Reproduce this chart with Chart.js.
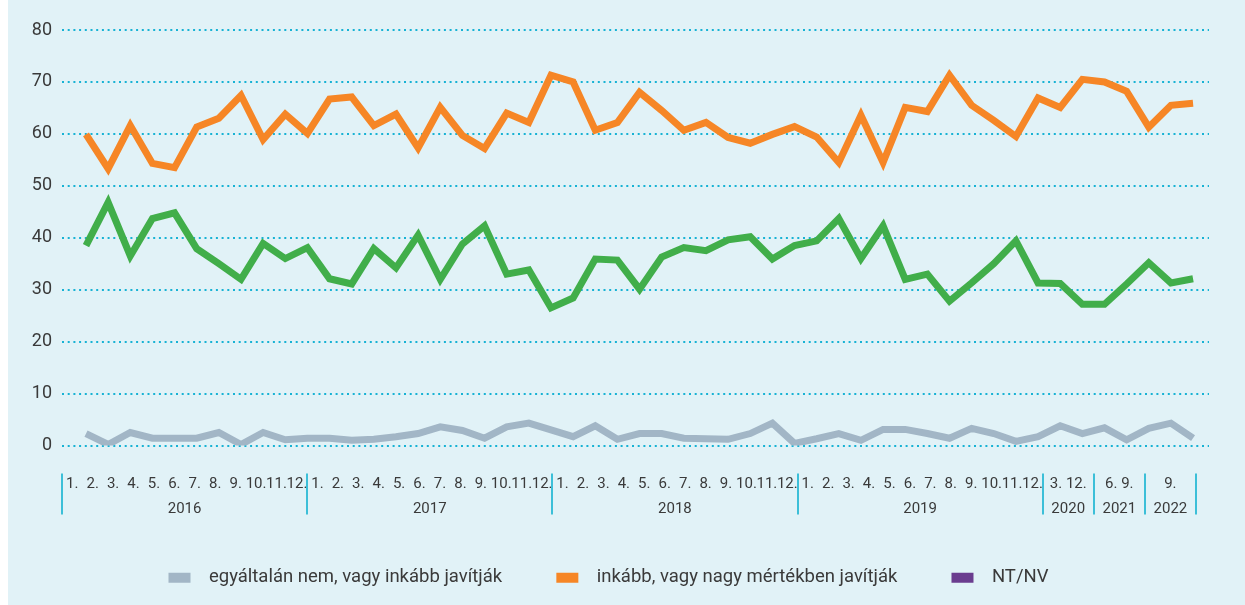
<!DOCTYPE html>
<html>
<head>
<meta charset="utf-8">
<script src="https://cdn.jsdelivr.net/npm/chart.js@4.4.1/dist/chart.umd.min.js"></script>
<style>
  html, body { margin: 0; padding: 0; background: #ffffff; }
  #wrap { position: absolute; left: 8px; top: 0; width: 1237px; height: 605px; background: #e1f2f7; }
</style>
</head>
<body>
<div id="wrap"><canvas id="chart"></canvas></div>
<script>
// month ticks for the full years, then the sparse later years
const monthLabels = ["1.","2.","3.","4.","5.","6.","7.","8.","9.","10.","11.","12."];
const fullYears = ["2016","2017","2018","2019"];
const lateLabels = ["3. 12.","6. 9.","9."];
const lateYears = ["2020","2021","2022"];

const yTicks = [0,10,20,30,40,50,60,70,80];

const legendNames = ["egyáltalán nem, vagy inkább javítják", "inkább, vagy nagy mértékben javítják", "NT/NV"];

// survey waves
const grayVals = [2.3,0.2,2.5,1.4,1.4,1.4,2.5,0.2,2.5,1.1,1.4,1.4,1.0,1.2,1.7,2.3,
  3.6,2.9,1.4,3.6,4.3,3.0,1.7,3.8,1.2,2.3,2.3,1.4,1.3,1.2,2.3,4.3,0.4,
  1.3,2.3,1.0,3.1,3.1,2.3,1.4,3.3,2.3,0.8,1.7,3.8,2.3,3.4,1.1,3.3,4.3,1.4];
const orangeVals = [59.9,53.3,61.6,54.3,53.5,61.3,63.0,67.4,58.9,63.8,60.1,66.7,67.1,61.6,63.8,57.3,
  65.1,59.7,57.2,64.0,62.2,71.3,70.0,60.7,62.2,68.0,64.5,60.7,62.2,59.3,58.2,59.9,61.4,
  59.4,54.5,63.6,54.5,65.1,64.3,71.3,65.5,62.6,59.5,66.9,65.1,70.5,70.0,68.2,61.3,65.5,65.9];
const greenVals = [38.5,46.8,36.5,43.7,44.8,37.9,35.0,32.0,38.9,36.0,38.1,32.1,31.1,37.9,34.2,40.5,
  32.0,38.8,42.3,33.0,33.8,26.5,28.4,35.9,35.7,30.1,36.3,38.1,37.5,39.6,40.2,35.9,38.5,
  39.4,43.7,36.0,42.3,32.0,33.0,27.8,31.3,35.0,39.4,31.3,31.2,27.2,27.2,31.1,35.2,31.3,32.1];
const ntnvVals = [];

const colors = { gray: "#a2b6c6", orange: "#f68626", green: "#41ae4a", purple: "#6a3d8f" };

// label axis: each month is one unit, later years get 2.5 units each
const lateWidth = 2.5;
const tickDefs = [];
fullYears.forEach((yr, yi) => {
  monthLabels.forEach((m, mi) => tickDefs.push({ v: yi * 12 + mi + 0.5, label: m }));
  tickDefs.push({ v: yi * 12 + 6, label: [" ", yr] });
});
const lateStart = fullYears.length * 12;
lateYears.forEach((yr, i) => {
  tickDefs.push({ v: lateStart + (i + 0.5) * lateWidth, label: [lateLabels[i], yr] });
});
tickDefs.sort((a, b) => a.v - b.v);
const sectionEdges = fullYears.map((_, i) => i * 12)
  .concat(lateYears.map((_, i) => lateStart + i * lateWidth))
  .concat([lateStart + lateYears.length * lateWidth]);

const toPoints = arr => arr.map((v, i) => ({ x: i, y: v }));

const yearDividers = {
  id: "yearDividers",
  afterDraw(chart) {
    const s = chart.scales.xl;
    const ctx = chart.ctx;
    ctx.save();
    ctx.strokeStyle = "#3cbfd8";
    ctx.lineWidth = 2;
    sectionEdges.forEach(v => {
      const x = Math.round(s.getPixelForValue(v));
      ctx.beginPath();
      ctx.moveTo(x, s.top + 28);
      ctx.lineTo(x, s.top + 69);
      ctx.stroke();
    });
    ctx.restore();
  }
};

Chart.defaults.font.family = "Roboto";
Chart.defaults.color = "#3a3a3a";

const lineDs = (label, vals, color) => ({
  label, data: toPoints(vals), xAxisID: "x",
  borderColor: color, backgroundColor: color,
  borderWidth: 7, pointRadius: 0, tension: 0,
  borderJoinStyle: "miter", borderCapStyle: "butt"
});

// extra room after the first two items, like the original spacing
const legendTail = ["       ", "       ", ""];

new Chart(document.getElementById("chart"), {
  type: "line",
  data: {
    datasets: [
      lineDs(legendNames[0], grayVals, colors.gray),
      lineDs(legendNames[1], orangeVals, colors.orange),
      lineDs(legendNames[2], ntnvVals, colors.purple),
      lineDs("", greenVals, colors.green)
    ]
  },
  options: {
    responsive: true,
    maintainAspectRatio: false,
    animation: false,
    layout: { padding: { top: 30, right: 36, bottom: 8, left: 0 } },
    plugins: {
      tooltip: { enabled: false },
      legend: {
        position: "bottom",
        labels: {
          boxWidth: 22, boxHeight: 10, padding: 22,
          font: { size: 18.5 }, color: "#3a3a3a",
          generateLabels(chart) {
            return Chart.defaults.plugins.legend.labels.generateLabels(chart)
              .filter(l => l.text !== "")
              .map(l => ({
                ...l, text: "  " + l.text + legendTail[l.datasetIndex],
                lineWidth: 0, strokeStyle: l.fillStyle
              }));
          }
        }
      }
    },
    scales: {
      x: {
        type: "linear", display: false,
        min: -1.084, max: 50.72
      },
      xl: {
        type: "linear", position: "bottom",
        min: 0, max: 56.14,
        afterBuildTicks: axis => { axis.ticks = tickDefs.map(t => ({ value: t.v })); },
        afterFit: axis => { axis.height = 101; },
        grid: { display: false, drawTicks: false },
        border: { display: false },
        ticks: {
          autoSkip: false, maxRotation: 0, minRotation: 0, padding: 26,
          font: { size: 15, lineHeight: 1.67 }, color: "#3a3a3a",
          callback: (value, index) => tickDefs[index].label
        }
      },
      y: {
        min: 0, max: 80,
        afterBuildTicks: axis => { axis.ticks = yTicks.map(v => ({ value: v })); },
        afterFit: axis => { axis.width = 54; },
        grid: { color: "#17b2d4", lineWidth: 2, drawTicks: false },
        border: { display: false, dash: [2, 3.7] },
        ticks: { padding: 10, font: { size: 18 }, color: "#3a3a3a" }
      }
    }
  },
  plugins: [yearDividers]
});
</script>
</body>
</html>
